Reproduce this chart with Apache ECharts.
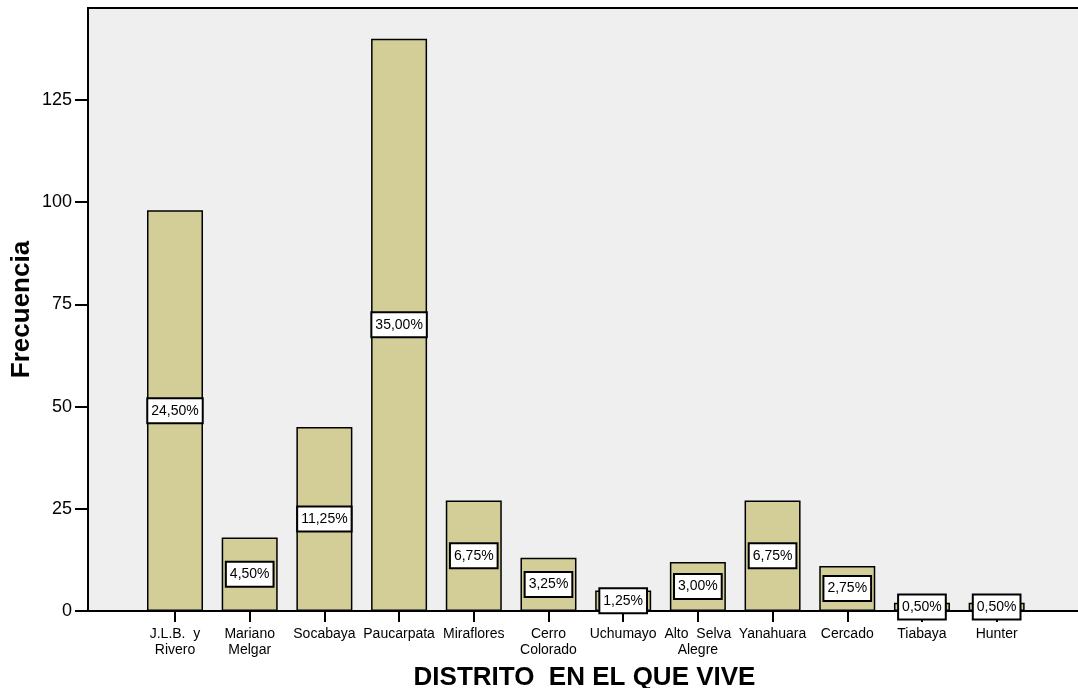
<!DOCTYPE html>
<html>
<head>
<meta charset="utf-8">
<script src="https://cdn.jsdelivr.net/npm/echarts@6/dist/echarts.min.js"></script>
<style>
  html, body { margin: 0; padding: 0; background: #ffffff; }
  #chart { width: 1078px; height: 688px; }
</style>
</head>
<body>
<div id="chart"></div>
<script>
// District of residence: frequency per district
var districts = ['J.L.B.  y\nRivero', 'Mariano\nMelgar', 'Socabaya', 'Paucarpata', 'Miraflores',
  'Cerro\nColorado', 'Uchumayo', 'Alto  Selva\nAlegre', 'Yanahuara', 'Cercado', 'Tiabaya', 'Hunter'];
var frequencies = [98, 18, 45, 140, 27, 13, 5, 12, 27, 11, 2, 2];
var yTicks = [0, 25, 50, 75, 100, 125];

var total = frequencies.reduce(function (a, b) { return a + b; }, 0);
function pctLabel(v) {
  return (v / total * 100).toFixed(2).replace('.', ',') + '%';
}

var FONT = 'Liberation Sans, Arial, sans-serif';
var chart = echarts.init(document.getElementById('chart'), null, { renderer: 'canvas' });

chart.setOption({
  animation: false,
  backgroundColor: '#ffffff',
  textStyle: { fontFamily: FONT },
  grid: [
    // plot frame with frequency scale
    { left: 88, right: -3, top: 8, bottom: 77, show: true, backgroundColor: '#efefef',
      borderColor: '#000', borderWidth: 2, outerBoundsMode: 'none', containLabel: false },
    // bars
    { left: 137.65, right: 44, top: 8, bottom: 77, outerBoundsMode: 'none', containLabel: false }
  ],
  xAxis: [
    { gridIndex: 0, type: 'value', min: 0, max: 1,
      axisLine: { show: true, onZero: false, lineStyle: { color: '#000', width: 2 } },
      axisTick: { show: false }, axisLabel: { show: false }, splitLine: { show: false },
      name: 'DISTRITO  EN EL QUE VIVE', nameLocation: 'middle', nameGap: 54, nameMoveOverlap: false,
      nameTextStyle: { fontFamily: FONT, fontSize: 26, fontWeight: 'bold', color: '#000' } },
    { gridIndex: 1, type: 'category', data: districts,
      axisLine: { show: false },
      axisTick: { show: true, alignWithLabel: true, length: 11, lineStyle: { color: '#000', width: 2 } },
      axisLabel: { interval: 0, margin: 15, fontFamily: FONT, fontSize: 14, color: '#000', lineHeight: 16 } }
  ],
  yAxis: [
    { gridIndex: 0, type: 'value', min: 0, max: 147.5, interval: 25,
      axisLine: { show: true, lineStyle: { color: '#000', width: 2 } },
      axisTick: { show: true, length: 13, lineStyle: { color: '#000', width: 2 },
        customValues: yTicks },
      axisLabel: { fontFamily: FONT, fontSize: 18, color: '#000', margin: 16,
        customValues: yTicks },
      splitLine: { show: false },
      name: 'Frecuencia', nameLocation: 'middle', nameGap: 53, nameMoveOverlap: false,
      nameTextStyle: { fontFamily: FONT, fontSize: 26, fontWeight: 'bold', color: '#000' } },
    { gridIndex: 1, type: 'value', min: 0, max: 147.5, show: false }
  ],
  series: [{
    type: 'bar',
    xAxisIndex: 1, yAxisIndex: 1,
    data: frequencies,
    barWidth: 56,
    itemStyle: { color: '#d3ce98', borderColor: '#000', borderWidth: 1.5 },
    label: {
      show: true, position: 'inside',
      formatter: function (p) { return pctLabel(p.value); },
      fontFamily: FONT, fontSize: 14, color: '#000',
      backgroundColor: '#ffffff', borderColor: '#000', borderWidth: 2,
      padding: [5, 3, 4, 3]
    }
  }]
});
</script>
</body>
</html>
